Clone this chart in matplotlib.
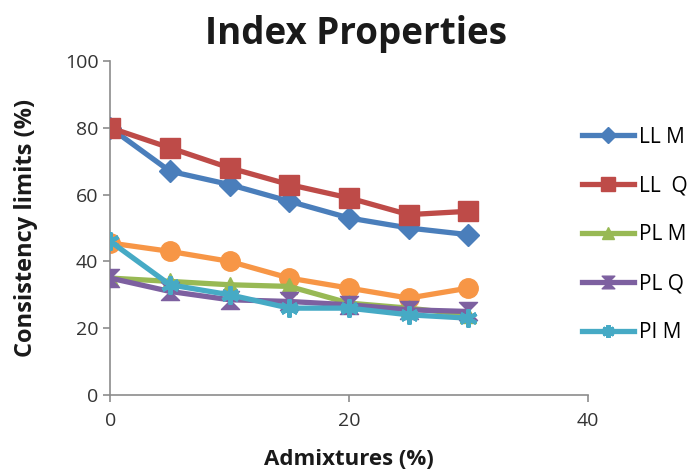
import matplotlib
matplotlib.use("Agg")
import matplotlib.pyplot as plt
from matplotlib.path import Path

admixture = [0, 5, 10, 15, 20, 25, 30]
ll_m = [80, 67, 63, 58, 53, 50, 48]
ll_q = [80, 74, 68, 63, 59, 54, 55]
pl_m = [35, 34, 33, 32.5, 27.5, 26, 24]
pl_q = [35, 31, 28.5, 28, 27, 25.5, 25]
pi_m = [46, 33, 30, 26, 26, 24, 23]
pi_q = [45.5, 43, 40, 35, 32, 29, 32]

plt.rcParams['font.family'] = ['Open Sans', 'DejaVu Sans']

fig = plt.figure(figsize=(6.89, 4.73), dpi=100)
ax = fig.add_axes([0.16, 0.165, 0.693, 0.706])

hourglass = Path([(-1, 1), (1, 1), (0, 0), (1, -1), (-1, -1), (0, 0), (-1, 1)],
                 [Path.MOVETO, Path.LINETO, Path.LINETO, Path.LINETO,
                  Path.LINETO, Path.LINETO, Path.CLOSEPOLY])

series = [
    ("LL M", ll_m, "#4A7EBB", dict(marker="D", ms=11)),
    ("LL  Q", ll_q, "#BE4B48", dict(marker="s", ms=15)),
    ("PL M", pl_m, "#98B954", dict(marker="^", ms=12)),
    ("PL Q", pl_q, "#7D60A0", dict(marker=hourglass, ms=13)),
    ("PI M", pi_m, "#46AAC5", dict(marker=(6, 2, 0), ms=13, mew=3)),
]

# orange series drawn first so the listed ones sit on top
ax.plot(admixture, pi_q, color="#F79646", lw=3.8, marker="o", ms=14,
        label="_nolegend_", zorder=2)

handles = []
for name, vals, col, kw in series:
    h, = ax.plot(admixture, vals, color=col, lw=3.8, label=name, zorder=3,
                 **kw)
    handles.append(h)

ax.set_xlim(0, 40)
ax.set_ylim(0, 100)
ax.set_xticks([0, 20, 40])
ax.set_yticks([0, 20, 40, 60, 80, 100])
for s in ("top", "right"):
    ax.spines[s].set_visible(False)
for s in ("left", "bottom"):
    ax.spines[s].set_color("#8C8C8C")
    ax.spines[s].set_linewidth(1.2)
ax.tick_params(colors="#8C8C8C", labelcolor="#333333", labelsize=14,
               length=5, width=1.2)
ax.tick_params(axis="x", pad=7)

ax.set_title("Index Properties", fontsize=26.5, fontweight="bold", pad=12,
             color="#1A1A1A", x=0.515)
ax.set_xlabel("Admixtures (%)", fontsize=16, fontweight="bold", labelpad=14,
              color="#1A1A1A")
ax.set_ylabel("Consistency limits (%)", fontsize=17, fontweight="bold",
              labelpad=19, color="#1A1A1A")

leg = fig.legend(handles=handles, loc="upper left",
                 bbox_to_anchor=(0.818, 0.772), frameon=False, fontsize=15,
                 handlelength=2.5, labelspacing=1.34, handletextpad=0.2,
                 markerscale=0.7)

fig.savefig("out.png", dpi=100)
